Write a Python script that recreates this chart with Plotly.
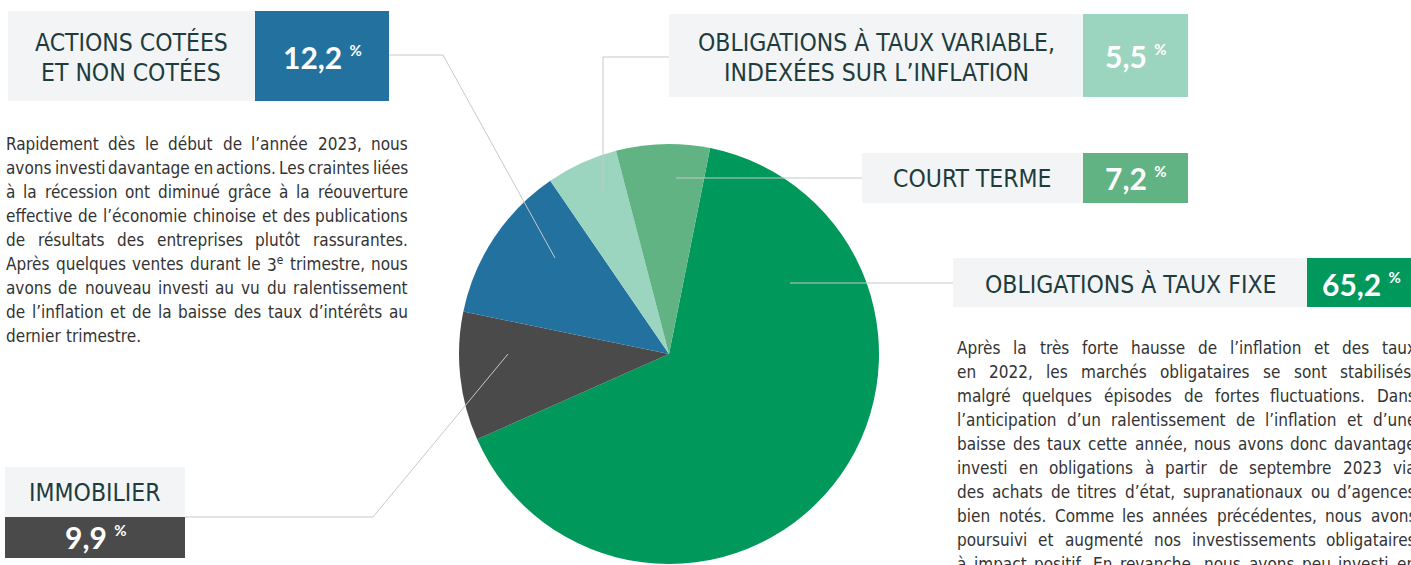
import glob
import plotly.graph_objects as go

W, H = 1411, 565

# ---------------- data ----------------
categories = ["OBLIGATIONS À TAUX FIXE", "IMMOBILIER", "ACTIONS COTÉES ET NON COTÉES",
              "OBLIGATIONS À TAUX VARIABLE, INDEXÉES SUR L’INFLATION", "COURT TERME"]
values = [65.2, 9.9, 12.2, 5.5, 7.2]
value_labels = ["65,2", "9,9", "12,2", "5,5", "7,2"]
colors = ["#00985B", "#4A4A4A", "#23719F", "#9BD5BF", "#61B384"]
title_lines = [["OBLIGATIONS À TAUX FIXE"], ["IMMOBILIER"], ["ACTIONS COTÉES", "ET NON COTÉES"],
               ["OBLIGATIONS À TAUX VARIABLE,", "INDEXÉES SUR L’INFLATION"], ["COURT TERME"]]

left_text = [
    "Rapidement dès le début de l’année 2023, nous",
    "avons investi davantage en actions. Les craintes liées",
    "à la récession ont diminué grâce à la réouverture",
    "effective de l’économie chinoise et des publications",
    "de résultats des entreprises plutôt rassurantes.",
    "Après quelques ventes durant le 3<sup>e</sup> trimestre, nous",
    "avons de nouveau investi au vu du ralentissement",
    "de l’inflation et de la baisse des taux d’intérêts au",
    "dernier trimestre.",
]
right_text = [
    "Après la très forte hausse de l’inflation et des taux",
    "en 2022, les marchés obligataires se sont stabilisés,",
    "malgré quelques épisodes de fortes fluctuations. Dans",
    "l’anticipation d’un ralentissement de l’inflation et d’une",
    "baisse des taux cette année, nous avons donc davantage",
    "investi en obligations à partir de septembre 2023 via",
    "des achats de titres d’état, supranationaux ou d’agences",
    "bien notés. Comme les années précédentes, nous avons",
    "poursuivi et augmenté nos investissements obligataires",
    "à impact positif. En revanche, nous avons peu investi en",
]

# ---------------- styles ----------------
BOX_GRAY = "#F3F4F6"
TITLE_COLOR = "#1E3C3D"
BODY_COLOR = "#333333"
LEAD_COLOR = "#C8C8C8"
COND = "DejaVu Sans Condensed, DejaVu Sans, sans-serif"
VAL_FONT = "Lato, Noto Sans, sans-serif"
BODY_SIZE = 17
TITLE_SIZE = 24.5


def px(x):
    return x / W


def py(y):
    return 1 - y / H


# ---------------- text measuring (DejaVu Sans Condensed) ----------------
DJV = {
    'a': 1255, 'b': 1300, 'c': 1126, 'd': 1300, 'e': 1260, 'f': 721, 'g': 1300, 'h': 1298,
    'i': 569, 'j': 569, 'k': 1186, 'l': 569, 'm': 1995, 'n': 1298, 'o': 1253, 'p': 1300,
    'q': 1300, 'r': 842, 's': 1067, 't': 803, 'u': 1298, 'v': 1212, 'w': 1675, 'x': 1212,
    'y': 1212, 'z': 1075,
    'A': 1401, 'B': 1405, 'C': 1430, 'D': 1577, 'E': 1294, 'F': 1178, 'G': 1587, 'H': 1540,
    'I': 604, 'J': 604, 'K': 1343, 'L': 1141, 'M': 1767, 'N': 1532, 'O': 1612, 'P': 1235,
    'Q': 1612, 'R': 1423, 'S': 1300, 'T': 1251, 'U': 1499, 'V': 1401, 'W': 2025, 'X': 1403,
    'Y': 1251, 'Z': 1403,
    ' ': 651, ',': 651, '.': 651, '’': 651, "'": 563, '-': 739,
}
ACC = {'à': 'a', 'â': 'a', 'é': 'e', 'è': 'e', 'ê': 'e', 'ô': 'o', 'û': 'u', 'ù': 'u',
       'î': 'i', 'ç': 'c', 'É': 'E', 'À': 'A'}
COND_FACTOR = 0.89

_measure = None
try:
    from PIL import ImageFont
    paths = glob.glob('/usr/share/fonts/**/DejaVuSansCondensed.ttf', recursive=True)
    if paths:
        _F = ImageFont.truetype(paths[0], BODY_SIZE)
        _Fs = ImageFont.truetype(paths[0], int(round(BODY_SIZE * 0.7)))
        _measure = (lambda s: _F.getlength(s), lambda s: _Fs.getlength(s))
except Exception:
    _measure = None


def base_w(s, small=False):
    if _measure:
        return _measure[1](s) if small else _measure[0](s)
    size = BODY_SIZE * (0.7 if small else 1.0)
    tot = 0
    for ch in s:
        if ch.isdigit():
            u = 1303
        else:
            u = DJV.get(ch, DJV.get(ACC.get(ch, 'a'), 1255))
        tot += u
    return tot / 2048 * COND_FACTOR * size


def word_w(w):
    if '<sup>' in w:
        a, rest = w.split('<sup>')
        b, c = rest.split('</sup>')
        return base_w(a) + base_w(b, True) + base_w(c)
    return base_w(w)


annotations = []
shapes = []


def ann(x, y, text, size, color, family, xanchor='center', weight='normal'):
    annotations.append(dict(
        x=px(x), y=py(y), xref='paper', yref='paper', text=text, showarrow=False,
        xanchor=xanchor, yanchor='middle', borderpad=0, borderwidth=0,
        font=dict(size=size, color=color, family=family, weight=weight)))


def rect(x0, y0, x1, y1, color):
    shapes.append(dict(type='rect', xref='paper', yref='paper', x0=px(x0), x1=px(x1),
                       y0=py(y1), y1=py(y0), fillcolor=color, line=dict(width=0), layer='above'))


def poly(pts):
    d = 'M' + ' L'.join(f'{px(x):.5f},{py(y):.5f}' for x, y in pts)
    shapes.append(dict(type='path', xref='paper', yref='paper', path=d,
                       line=dict(color=LEAD_COLOR, width=1), layer='above'))


def justify(lines, x0, x1, y0, dy, last_ragged):
    sp = base_w(' ')
    for i, line in enumerate(lines):
        words = line.split(' ')
        widths = [word_w(w) for w in words]
        if last_ragged and i == len(lines) - 1:
            gap = sp
        else:
            gap = (x1 - x0 - sum(widths)) / (len(words) - 1)
        x = x0
        for w, wd in zip(words, widths):
            ann(x + wd / 2, y0 + i * dy, w, BODY_SIZE, BODY_COLOR, COND, xanchor='center')
            x += wd + gap


# ---------------- pie ----------------
fig = go.Figure(go.Pie(
    labels=categories, values=values, sort=False, direction='clockwise', rotation=11.3,
    marker=dict(colors=colors, line=dict(width=0)), textinfo='none', hoverinfo='label+percent',
    domain=dict(x=[px(459), px(879)], y=[py(564), py(144)]), showlegend=False,
))

# ---------------- label boxes ----------------
layout_spec = [
    dict(gray=(953, 258, 1307, 307), val=(1307, 258, 1425, 307), tc=[(1130, 284)], vc=(1361, 284),
         lead=[(953, 283), (790, 283)]),
    dict(gray=(5, 467, 185, 517), val=(5, 517, 185, 558), tc=[(95, 492)], vc=(95, 537),
         lead=[(185, 517), (373, 517), (508, 354)]),
    dict(gray=(8, 11, 255, 101), val=(255, 11, 389, 101), tc=[(131, 42), (131, 72)], vc=(322, 57),
         lead=[(389, 55), (443, 55), (555, 258)]),
    dict(gray=(669, 14, 1083, 97), val=(1083, 14, 1188, 97), tc=[(876, 42), (876, 72)], vc=(1135, 56),
         lead=[(669, 57), (603, 57), (603, 190)]),
    dict(gray=(862, 153, 1083, 203), val=(1083, 153, 1188, 203), tc=[(972, 178)], vc=(1135, 178),
         lead=[(862, 178), (676, 178)]),
]

for i, spec in enumerate(layout_spec):
    rect(*spec['gray'], BOX_GRAY)
    rect(*spec['val'], colors[i])
    for (tx, ty), t in zip(spec['tc'], title_lines[i]):
        ann(tx, ty, t, TITLE_SIZE, TITLE_COLOR, COND)
    vx, vy = spec['vc']
    ann(vx, vy, f"{value_labels[i]} <sup><span style='font-size:15px'>%</span></sup>", 30,
        "#FFFFFF", VAL_FONT, weight='bold')
    poly(spec['lead'])

# ---------------- paragraphs ----------------
justify(left_text, 6, 408, 143.5, 24, True)
justify(right_text, 957, 1416, 347.7, 24, False)

fig.update_layout(
    width=W, height=H, margin=dict(l=0, r=0, t=0, b=0),
    paper_bgcolor='white', plot_bgcolor='white',
    annotations=annotations, shapes=shapes,
)
fig.write_html("out.html", config={'displayModeBar': False},
               post_script="document.body.style.margin='0';")
